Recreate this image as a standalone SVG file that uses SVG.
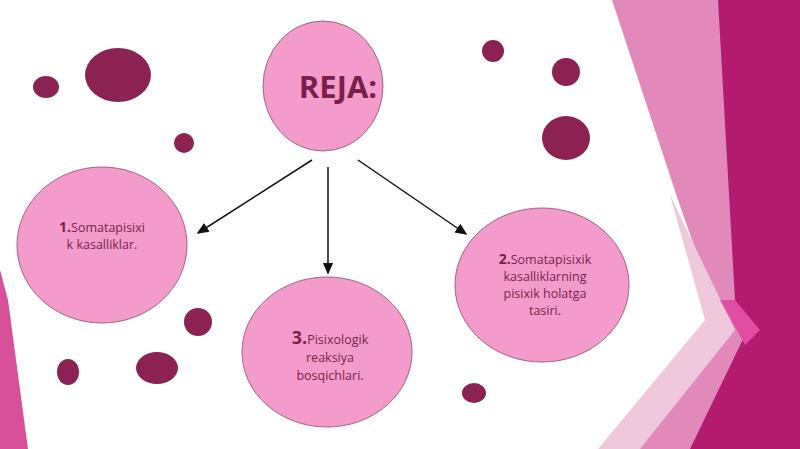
<svg xmlns="http://www.w3.org/2000/svg" width="800" height="449" viewBox="0 0 800 449">
<style>
.n{fill:#f39ccb;stroke:#a8607f;stroke-width:1}
.d{fill:#8b2252}
.t{font-family:"Open Sans",sans-serif;fill:#7a1f4a;font-size:12.5px;text-anchor:middle}
.b{font-weight:bold;font-size:14px}
</style>
<defs><marker id="a" markerWidth="8" markerHeight="8" refX="7" refY="4" orient="auto"><path d="M0,0.5L8,4L0,7.5z" fill="#111"/></marker></defs>
<rect width="800" height="449" fill="#fff"/>
<g id="bg">
<polygon points="612,0 800,0 800,449 600,449 720,320 678,200" fill="#e18ab9"/>
<polygon points="670,195 735,330 640,449 598,449 705,320" fill="#efc8dc"/>
<polygon points="718,0 800,0 800,449 690,449 745,335 735,300" fill="#b31c6e"/>
<polygon points="735,300 760,330 745,345 720,300" fill="#e04ea2"/>
<polygon points="0,270 8,300 28,449 0,449" fill="#d8509a"/>
</g>
<g id="dots">
<ellipse class="d" cx="46" cy="87" rx="13" ry="11"/>
<ellipse class="d" cx="118" cy="75" rx="33" ry="27"/>
<circle class="d" cx="184" cy="143" r="10"/>
<circle class="d" cx="493" cy="51" r="11"/>
<circle class="d" cx="566" cy="72" r="14"/>
<ellipse class="d" cx="566" cy="138" rx="24" ry="22"/>
<circle class="d" cx="198" cy="322" r="14"/>
<ellipse class="d" cx="68" cy="372" rx="11" ry="13"/>
<ellipse class="d" cx="157" cy="368" rx="21" ry="16"/>
<ellipse class="d" cx="474" cy="393" rx="12" ry="10"/>
</g>
<g id="connectors" stroke="#111" stroke-width="1.5" marker-end="url(#a)">
<line x1="312" y1="160" x2="198" y2="233"/>
<line x1="328" y1="167" x2="328" y2="273"/>
<line x1="358" y1="160" x2="466" y2="234"/>
</g>
<g id="reja"><ellipse class="n" cx="323" cy="86" rx="60" ry="65"/><text class="t" x="338" y="98" style="font-size:31px;font-weight:bold">REJA:</text></g>
<g id="n1"><ellipse class="n" cx="102" cy="245" rx="85" ry="78"/><text class="t" x="102" y="232"><tspan class="b">1.</tspan>Somatapisixi</text><text class="t" x="102" y="249">k kasalliklar.</text></g>
<g id="n3"><ellipse class="n" cx="327" cy="352" rx="85" ry="75"/><text class="t" x="330" y="344"><tspan style="font-weight:bold;font-size:18px">3.</tspan>Pisixologik</text><text class="t" x="330" y="362">reaksiya</text><text class="t" x="330" y="380">bosqichlari.</text></g>
<g id="n2"><ellipse class="n" cx="542" cy="285" rx="87" ry="77"/><text class="t" x="545" y="264"><tspan class="b">2.</tspan>Somatapisixik</text><text class="t" x="545" y="281">kasalliklarning</text><text class="t" x="545" y="298">pisixik holatga</text><text class="t" x="545" y="315">tasiri.</text></g>
</svg>
